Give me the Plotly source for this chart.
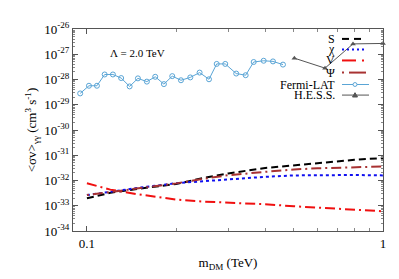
import plotly.graph_objects as go

# ---------------- data ----------------
masses = [0.1, 0.12, 0.15, 0.2, 0.25, 0.3, 0.4, 0.5, 0.6, 0.7, 0.8, 0.9, 1.0]
sv_S = [1.97e-33, 3.25e-33, 4.74e-33, 7.23e-33, 1.29e-32, 1.91e-32, 3.13e-32,
        4.04e-32, 5.07e-32, 5.83e-32, 6.59e-32, 7.19e-32, 7.73e-32]
sv_chi = [2.64e-33, 3.65e-33, 5.18e-33, 7.82e-33, 9.57e-33, 1.12e-32, 1.40e-32,
          1.59e-32, 1.65e-32, 1.66e-32, 1.65e-32, 1.62e-32, 1.59e-32]
sv_V = [7.82e-33, 4.35e-33, 2.80e-33, 1.76e-33, 1.45e-33, 1.35e-33, 1.15e-33,
        9.53e-34, 8.57e-34, 7.85e-34, 7.19e-34, 6.59e-34, 6.04e-34]
sv_Psi = [2.64e-33, 3.49e-33, 4.96e-33, 7.69e-33, 1.19e-32, 1.62e-32, 2.20e-32,
          2.74e-32, 3.05e-32, 3.21e-32, 3.39e-32, 3.51e-32, 3.57e-32]

fermi_m = [0.0949, 0.1016, 0.1081, 0.1148, 0.1224, 0.1305, 0.1394, 0.1487,
           0.1594, 0.1701, 0.1820, 0.1942, 0.2078, 0.2234, 0.2402, 0.2584,
           0.2744, 0.2932, 0.3193, 0.3437, 0.3658, 0.3953, 0.4250, 0.4594]
fermi_sv = [2.81e-29, 5.65e-29, 5.65e-29, 1.58e-28, 1.58e-28, 1.14e-28, 5.32e-29,
            1.11e-28, 8.24e-29, 1.28e-28, 6.56e-29, 1.36e-28, 9.33e-29, 1.21e-28,
            1.88e-28, 1.02e-28, 4.14e-28, 4.14e-28, 1.72e-28, 1.48e-28, 4.93e-28,
            5.53e-28, 5.20e-28, 3.89e-28]

hess_m = [0.502, 0.637, 0.792, 1.0]
hess_sv = [7.0e-28, 2.82e-28, 2.57e-27, 2.68e-27]

y_tickvals = [1e-26, 1e-27, 1e-28, 1e-29, 1e-30, 1e-31, 1e-32, 1e-33, 1e-34]
y_ticktext = ["10<sup>-26</sup>", "10<sup>-27</sup>", "10<sup>-28</sup>", "10<sup>-29</sup>",
              "10<sup>-30</sup>", "10<sup>-31</sup>", "10<sup>-32</sup>", "10<sup>-33</sup>",
              "10<sup>-34</sup>"]
x_tickvals = [0.1, 1]
x_ticktext = ["0.1", "1"]

FONT = "Liberation Serif"
C_S, C_CHI, C_V, C_PSI = "#000000", "#1010f0", "#f01010", "#a83232"
C_FERMI, C_HESS = "#5aa5d6", "#555555"
D_S = "7px,4px"
D_CHI = "3px,3px"
D_V = "10px,4px,2px,4px"
D_PSI = "2px,4px,10px,4px"

fig = go.Figure()
fig.add_trace(go.Scatter(x=masses, y=sv_S, mode="lines", name="S",
                         line=dict(color=C_S, width=2, dash=D_S)))
fig.add_trace(go.Scatter(x=masses, y=sv_chi, mode="lines", name="χ",
                         line=dict(color=C_CHI, width=2, dash=D_CHI)))
fig.add_trace(go.Scatter(x=masses, y=sv_V, mode="lines", name="V",
                         line=dict(color=C_V, width=2, dash=D_V)))
fig.add_trace(go.Scatter(x=masses, y=sv_Psi, mode="lines", name="Ψ",
                         line=dict(color=C_PSI, width=2, dash=D_PSI)))
fig.add_trace(go.Scatter(x=fermi_m, y=fermi_sv, mode="lines+markers", name="Fermi-LAT",
                         line=dict(color=C_FERMI, width=1),
                         marker=dict(symbol="circle-open", size=5, color=C_FERMI,
                                     line=dict(width=1))))
fig.add_trace(go.Scatter(x=hess_m, y=hess_sv, mode="lines+markers", name="H.E.S.S.",
                         line=dict(color=C_HESS, width=1),
                         marker=dict(symbol="triangle-up", size=5, color=C_HESS),
                         cliponaxis=False))

W, H = 399, 279
L, R, T, B = 65, 24, 13, 56
pw, ph = W - L - R, H - T - B


def px2paper(x, y):
    return (x - L) / pw, 1 - (y - T) / ph


shapes = []
annotations = []
legend_items = [
    ("S", C_S, "dash", 23.3),
    ("χ", C_CHI, "dot", 34.3),
    ("V", C_V, "V", 45.7),
    ("Ψ", C_PSI, "Psi", 58.3),
    ("Fermi-LAT", C_FERMI, "fermi", 70.7),
    ("H.E.S.S.", C_HESS, "hess", 81.7),
]
for label, col, kind, yy in legend_items:
    tx, ty = px2paper(329, yy)
    annotations.append(dict(x=tx, y=ty, xref="paper", yref="paper", text=label,
                            showarrow=False, xanchor="right", yanchor="middle",
                            font=dict(family=FONT, size=12, color="black")))
    segs = []
    w = 2
    if kind == "dash":
        segs = [(334, 341), (346, 353)]
    elif kind == "dot":
        segs = [(334, 336), (339, 341), (344, 346), (349, 351), (354, 356)]
    elif kind == "V":
        segs = [(334, 348), (354, 356)]
    elif kind == "Psi":
        segs = [(334, 336), (341, 358)]
    else:
        segs = [(334, 361)]
        w = 1
    for a, b in segs:
        x0, y0 = px2paper(a, yy)
        x1, _ = px2paper(b, yy)
        shapes.append(dict(type="line", xref="paper", yref="paper", x0=x0, x1=x1,
                           y0=y0, y1=y0, line=dict(color=col, width=w)))
    if kind == "fermi":
        cx0, cy0 = px2paper(345, yy - 2)
        cx1, cy1 = px2paper(349, yy + 2)
        shapes.append(dict(type="circle", xref="paper", yref="paper", x0=cx0, x1=cx1,
                           y0=cy1, y1=cy0, line=dict(color=col, width=1),
                           fillcolor="white"))
    if kind == "hess":
        p1 = px2paper(344.5, yy + 2)
        p2 = px2paper(349.5, yy + 2)
        p3 = px2paper(347, yy - 2.5)
        path = f"M {p1[0]},{p1[1]} L {p2[0]},{p2[1]} L {p3[0]},{p3[1]} Z"
        shapes.append(dict(type="path", xref="paper", yref="paper", path=path,
                           fillcolor=col, line=dict(color=col, width=1)))

ax, ay = px2paper(129, 38)
annotations.append(dict(x=ax, y=ay, xref="paper", yref="paper", text="Λ = 2.0 TeV",
                        showarrow=False, xanchor="center", yanchor="middle",
                        font=dict(family=FONT, size=11, color="black")))

fig.update_layout(
    width=W, height=H,
    margin=dict(l=L, r=R, t=T, b=B),
    paper_bgcolor="white", plot_bgcolor="white",
    showlegend=False,
    font=dict(family=FONT, size=13, color="black"),
    shapes=shapes, annotations=annotations,
)
fig.update_xaxes(
    type="log", range=[-1.047, 0.0],
    tickvals=x_tickvals, ticktext=x_ticktext,
    ticks="inside", ticklen=5, tickcolor="#555",
    minor=dict(ticks="inside", ticklen=3, tickcolor="#888",
               tickvals=[0.2, 0.3, 0.4, 0.5, 0.6, 0.7, 0.8, 0.9]),
    showline=True, linecolor="#555", linewidth=1, mirror="allticks",
    showgrid=False, zeroline=False,
    tickfont=dict(family=FONT, size=13),
    title=dict(text="m<sub>DM</sub> (TeV)", font=dict(family=FONT, size=13), standoff=8),
)
fig.update_yaxes(
    type="log", range=[-34, -26],
    tickvals=y_tickvals, ticktext=y_ticktext,
    ticks="inside", ticklen=5, tickcolor="#555",
    minor=dict(ticks="inside", ticklen=2, tickcolor="#888", dtick="D1"),
    showline=True, linecolor="#555", linewidth=1, mirror="allticks",
    showgrid=False, zeroline=False,
    tickfont=dict(family=FONT, size=13),
    title=dict(text="<σv><sub>γγ</sub> (cm<sup>3</sup> s<sup>-1</sup>)",
               font=dict(family=FONT, size=13), standoff=4),
)

fig.write_html("out.html")
